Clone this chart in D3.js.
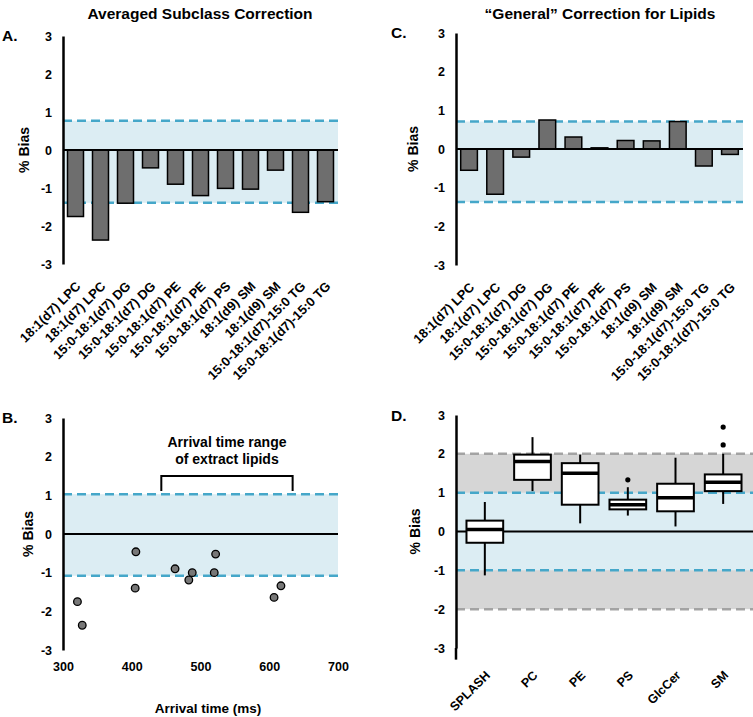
<!DOCTYPE html>
<html>
<head>
<meta charset="utf-8">
<script src="https://cdn.jsdelivr.net/npm/d3@7"></script>
<style>
  body { margin: 0; background: #fff; }
  svg { font-family: "Liberation Sans", Arial, sans-serif; font-weight: bold; }
</style>
</head>
<body>
<svg id="fig" width="753" height="717"></svg>
<script>
// data
const lipidNames = ["18:1(d7) LPC", "18:1(d7) LPC", "15:0-18:1(d7) DG", "15:0-18:1(d7) DG",
  "15:0-18:1(d7) PE", "15:0-18:1(d7) PE", "15:0-18:1(d7) PS", "18:1(d9) SM", "18:1(d9) SM",
  "15:0-18:1(d7)-15:0 TG", "15:0-18:1(d7)-15:0 TG"];
const subclassBias = [-1.75, -2.37, -1.40, -0.47, -0.90, -1.20, -1.01, -1.03, -0.53, -1.64, -1.36];
const generalBias = [-0.55, -1.17, -0.21, 0.75, 0.31, 0.03, 0.22, 0.21, 0.71, -0.44, -0.14];
const arrivalTime = [321, 328, 405, 406, 463, 483, 488, 520, 522, 607, 617];
const arrivalBias = [-1.75, -2.36, -1.40, -0.46, -0.90, -1.19, -1.00, -1.00, -0.52, -1.64, -1.34];
const extractRange = [443, 634];

const subclassLimits = [-1.39, 0.77];
const generalLimits = [-1.37, 0.71];
const arrivalLimits = [-1.08, 1.03];
const innerLimits = [-1, 1];
const outerLimits = [-2, 2];

const boxClasses = ["SPLASH", "PC", "PE", "PS", "GlcCer", "SM"];
const boxLow = [-1.13, 1.04, 0.21, 0.41, 0.13, 0.71];
const boxQ1 = [-0.29, 1.33, 0.69, 0.57, 0.52, 1.04];
const boxMedian = [0.05, 1.80, 1.50, 0.69, 0.87, 1.27];
const boxQ3 = [0.28, 1.98, 1.76, 0.82, 1.23, 1.47];
const boxHigh = [0.76, 2.43, 1.98, 1.14, 1.90, 2.00];
const boxOutliers = [[], [], [], [1.33], [], [2.23, 2.69]];

const yTicks = [-3, -2, -1, 0, 1, 2, 3];
const xTicks = [300, 400, 500, 600, 700];

const blue = "#45a7c9", band = "#dcedf3", grey = "#d6d6d6", greyDash = "#a3a3a3";
const svg = d3.select("#fig");

function fixText(a) {
  a.attr("font-family", null).attr("font-size", null);
  a.selectAll("text").style("font-size", "12.5px");
}

function yAxis(g, y, x0) {
  g.append("g")
    .attr("transform", `translate(${x0},0)`)
    .call(d3.axisLeft(y).tickValues(yTicks).tickFormat(d => String(d)).tickSize(0).tickPadding(11))
    .call(a => a.select(".domain").attr("stroke-width", 2.5))
    .call(fixText);
}

function hband(g, y, x0, x1, lo, hi, fill) {
  g.append("rect").attr("x", x0).attr("width", x1 - x0)
    .attr("y", y(hi)).attr("height", y(lo) - y(hi)).attr("fill", fill);
}

function hdash(g, y, x0, x1, v, color) {
  g.append("line").attr("x1", x0).attr("x2", x1).attr("y1", y(v)).attr("y2", y(v))
    .attr("stroke", color).attr("stroke-width", 2.5).attr("stroke-dasharray", "9,5");
}

function yTitle(g, x, yc) {
  g.append("text").attr("transform", `translate(${x},${yc}) rotate(-90)`)
    .attr("text-anchor", "middle").style("font-size", "14px").text("% Bias");
}

function barPanel(values, limits, xr, yr, title, titleX, letter, letterX) {
  const g = svg.append("g");
  const x = d3.scaleBand().domain(d3.range(values.length)).range(xr).paddingInner(0.36).paddingOuter(0.18);
  const y = d3.scaleLinear().domain([-3, 3]).range(yr);
  hband(g, y, xr[0], xr[1], limits[0], limits[1], band);
  hdash(g, y, xr[0], xr[1], limits[0], blue);
  hdash(g, y, xr[0], xr[1], limits[1], blue);
  g.selectAll("rect.bar").data(values).join("rect").attr("class", "bar")
    .attr("x", (d, i) => x(i)).attr("width", x.bandwidth())
    .attr("y", d => y(Math.max(0, d))).attr("height", d => Math.abs(y(d) - y(0)))
    .attr("fill", "#6e6e6e").attr("stroke", "#000").attr("stroke-width", 1.5);
  g.append("line").attr("x1", xr[0]).attr("x2", xr[1]).attr("y1", y(0)).attr("y2", y(0))
    .attr("stroke", "#000").attr("stroke-width", 2);
  yAxis(g, y, xr[0]);
  g.selectAll("text.lab").data(lipidNames).join("text").attr("class", "lab")
    .attr("text-anchor", "end").style("font-size", "13px")
    .attr("transform", (d, i) => `translate(${x(i) + x.bandwidth() / 2 + 6},${yr[0] + 23}) rotate(-45)`)
    .text(d => d);
  yTitle(g, letterX + 27, y(0));
  svg.append("text").attr("x", titleX).attr("y", 19).attr("text-anchor", "middle")
    .style("font-size", "15.5px").text(title);
  svg.append("text").attr("x", letterX).attr("y", yr[1] + 5).style("font-size", "15.5px").text(letter);
}

barPanel(subclassBias, subclassLimits, [63, 338], [264, 36], "Averaged Subclass Correction", 200, "A.", 2);
barPanel(generalBias, generalLimits, [456, 743], [265, 33], "\u201cGeneral\u201d Correction for Lipids", 600, "C.", 391);

// panel B
{
  const g = svg.append("g");
  const x = d3.scaleLinear().domain([300, 700]).range([63, 338]);
  const y = d3.scaleLinear().domain([-3, 3]).range([650, 418]);
  hband(g, y, 63, 338, arrivalLimits[0], arrivalLimits[1], band);
  hdash(g, y, 63, 338, arrivalLimits[0], blue);
  hdash(g, y, 63, 338, arrivalLimits[1], blue);
  g.append("line").attr("x1", 63).attr("x2", 338).attr("y1", y(0)).attr("y2", y(0))
    .attr("stroke", "#000").attr("stroke-width", 2);
  g.selectAll("circle").data(arrivalTime).join("circle")
    .attr("cx", d => x(d)).attr("cy", (d, i) => y(arrivalBias[i])).attr("r", 3.8)
    .attr("fill", "#777").attr("stroke", "#000").attr("stroke-width", 1.3);
  yAxis(g, y, 63);
  g.append("g").attr("transform", "translate(0,650)")
    .call(d3.axisBottom(x).tickValues(xTicks).tickSize(0).tickPadding(12))
    .call(a => a.select(".domain").remove())
    .call(fixText);
  g.append("text").attr("x", 208).attr("y", 713).attr("text-anchor", "middle")
    .style("font-size", "13.5px").text("Arrival time (ms)");
  const bx0 = x(extractRange[0]), bx1 = x(extractRange[1]);
  g.append("path").attr("d", `M${bx0},491V476H${bx1}V491`)
    .attr("fill", "none").attr("stroke", "#000").attr("stroke-width", 2);
  g.append("text").attr("x", (bx0 + bx1) / 2).attr("y", 447).attr("text-anchor", "middle")
    .style("font-size", "14px").text("Arrival time range");
  g.append("text").attr("x", (bx0 + bx1) / 2).attr("y", 464).attr("text-anchor", "middle")
    .style("font-size", "14px").text("of extract lipids");
  yTitle(g, 33, y(0));
  svg.append("text").attr("x", 2).attr("y", 423).style("font-size", "15.5px").text("B.");
}

// panel D
{
  const g = svg.append("g");
  const x = d3.scaleBand().domain(boxClasses).range([461, 747]).padding(0.23).paddingOuter(0.115);
  const y = d3.scaleLinear().domain([-3, 3]).range([648, 415]);
  const xr = [456, 753];
  hband(g, y, xr[0], xr[1], outerLimits[0], outerLimits[1], grey);
  hband(g, y, xr[0], xr[1], innerLimits[0], innerLimits[1], band);
  hdash(g, y, xr[0], xr[1], outerLimits[0], greyDash);
  hdash(g, y, xr[0], xr[1], outerLimits[1], greyDash);
  hdash(g, y, xr[0], xr[1], innerLimits[0], blue);
  hdash(g, y, xr[0], xr[1], innerLimits[1], blue);
  g.append("line").attr("x1", xr[0]).attr("x2", xr[1]).attr("y1", y(0)).attr("y2", y(0))
    .attr("stroke", "#000").attr("stroke-width", 2);
  const bw = x.bandwidth();
  boxClasses.forEach((c, i) => {
    const cx = x(c) + bw / 2;
    g.append("line").attr("x1", cx).attr("x2", cx).attr("y1", y(boxHigh[i])).attr("y2", y(boxLow[i]))
      .attr("stroke", "#000").attr("stroke-width", 2);
    g.append("rect").attr("x", x(c)).attr("width", bw).attr("y", y(boxQ3[i]))
      .attr("height", y(boxQ1[i]) - y(boxQ3[i]))
      .attr("fill", "#fff").attr("stroke", "#000").attr("stroke-width", 2);
    g.append("line").attr("x1", x(c)).attr("x2", x(c) + bw).attr("y1", y(boxMedian[i])).attr("y2", y(boxMedian[i]))
      .attr("stroke", "#000").attr("stroke-width", 3.5);
    boxOutliers[i].forEach(v => {
      g.append("circle").attr("cx", cx).attr("cy", y(v)).attr("r", 2.6).attr("fill", "#000");
    });
  });
  yAxis(g, y, 456);
  g.append("line").attr("x1", 456).attr("x2", 456).attr("y1", y(-3)).attr("y2", y(-3.3))
    .attr("stroke", "#000").attr("stroke-width", 2.5);
  g.selectAll("text.lab").data(boxClasses).join("text").attr("class", "lab")
    .attr("text-anchor", "end").style("font-size", "12.5px")
    .attr("transform", d => `translate(${x(d) + bw / 2 + 6},${676}) rotate(-45)`)
    .text(d => d);
  yTitle(g, 420, y(0));
  svg.append("text").attr("x", 391).attr("y", 421).style("font-size", "15.5px").text("D.");
}
</script>
</body>
</html>
